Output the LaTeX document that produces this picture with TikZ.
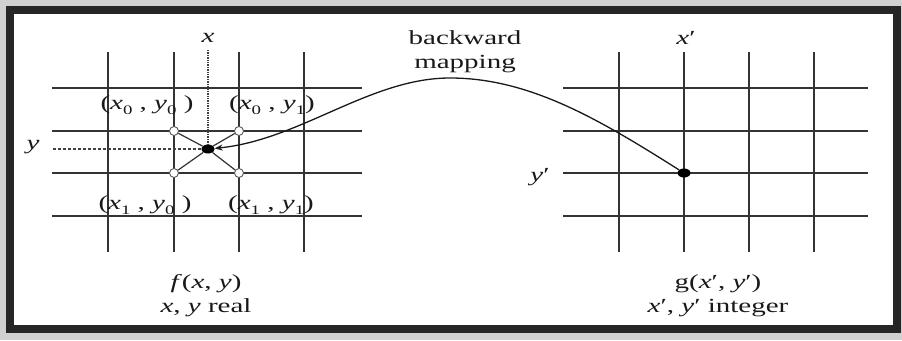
\documentclass[tikz,border=0pt]{standalone}
\usepackage{fontspec}
\setmainfont{Liberation Serif}
\usetikzlibrary{arrows.meta,shapes.geometric}
\newcommand{\hstretch}[1]{\scalebox{1.45}[1]{#1}}
\newcommand{\sbs}[1]{\raisebox{-0.28em}{\fontsize{13}{14}\selectfont #1}}
\tikzset{
  gridline/.style={draw=black!80, line width=1.5pt},
  lbl/.style={inner sep=0pt, font=\fontsize{20}{24}\selectfont, text=black!90},
  hollow/.style={circle, draw=black!65, fill=white, line width=0.9pt, minimum size=9pt, inner sep=0pt},
  blackdot/.style={ellipse, fill=black, minimum width=13pt, minimum height=9pt, inner sep=0pt},
  guide/.style={black!75, line width=1.1pt},
}
\begin{document}
\begin{tikzpicture}[x=1pt,y=-1pt]
\useasboundingbox (0,0) rectangle (902,340);
\fill[black!18] (0,0) rectangle (902,340);
\draw[fill=white, draw=black!85, line width=8pt] (10,10) rectangle (897,329);

% left grid
\foreach \gx in {108,174,239,304} \draw[gridline] (\gx,52) -- (\gx,252);
\foreach \gy in {88,131,173,216} \draw[gridline] (52,\gy) -- (362,\gy);
% right grid
\foreach \gx in {619,684,749,814} \draw[gridline] (\gx,52) -- (\gx,252);
\foreach \gy in {88,131,173,216} \draw[gridline] (563,\gy) -- (868,\gy);

% interpolation point and neighbours
\node[blackdot] (P) at (208,149) {};
\node[hollow] (c00) at (174,131) {};
\node[hollow] (c01) at (239,131) {};
\node[hollow] (c10) at (174,173) {};
\node[hollow] (c11) at (239,173) {};
\draw[black!80, line width=1.2pt] (P) -- (c00);
\draw[black!80, line width=1.2pt] (P) -- (c01);
\draw[black!80, line width=1.2pt] (P) -- (c10);
\draw[black!80, line width=1.2pt] (P) -- (c11);

\coordinate (xtop) at (208,50);
\coordinate (yleft) at (53,149);
\draw[guide, line width=1.4pt, densely dotted] (xtop) -- (P);
\draw[guide, dash pattern=on 3pt off 2pt] (yleft) -- (P);

\node[blackdot] (Q) at (684,173) {};

% labels
\node[lbl] (lx) at (208,38) {\hstretch{\textit{x}}};
\node[lbl] (ly) at (33,147) {\hstretch{\textit{y}}};
\node[lbl] (l00) at (147,105) {\hstretch{(\textit{x}\sbs{0} , \textit{y}\sbs{0} )}};
\node[lbl] (l01) at (272,105) {\hstretch{(\textit{x}\sbs{0} , \textit{y}\sbs{1})}};
\node[lbl] (l10) at (145,205) {\hstretch{(\textit{x}\sbs{1} , \textit{y}\sbs{0} )}};
\node[lbl] (l11) at (271,205) {\hstretch{(\textit{x}\sbs{1} , \textit{y}\sbs{1})}};
\node[lbl, align=center] (f) at (206,296)
  {\hstretch{\textit{f}(\textit{x}, \textit{y})}\\\hstretch{\textit{x}, \textit{y} real}};

\node[lbl, align=center] (b) at (465,52) {\hstretch{backward}\\\hstretch{mapping}};

\node[lbl] (rx) at (686,38) {\hstretch{\textit{x}′}};
\node[lbl] (ry) at (540,177) {\hstretch{\textit{y}′}};
\node[lbl, align=center] (g) at (718,296)
  {\hstretch{g(\textit{x}′, \textit{y}′)}\\\hstretch{\textit{x}′, \textit{y}′ integer}};

% backward mapping arrow
\coordinate (peak) at (450,78);
\draw[black!90, line width=1.3pt, -{Stealth[length=8pt,width=6pt]}]
  (Q) .. controls (600,120) and (530,78) .. (peak)
      .. controls (370,78) and (300,140) .. (P);
\end{tikzpicture}
\end{document}
